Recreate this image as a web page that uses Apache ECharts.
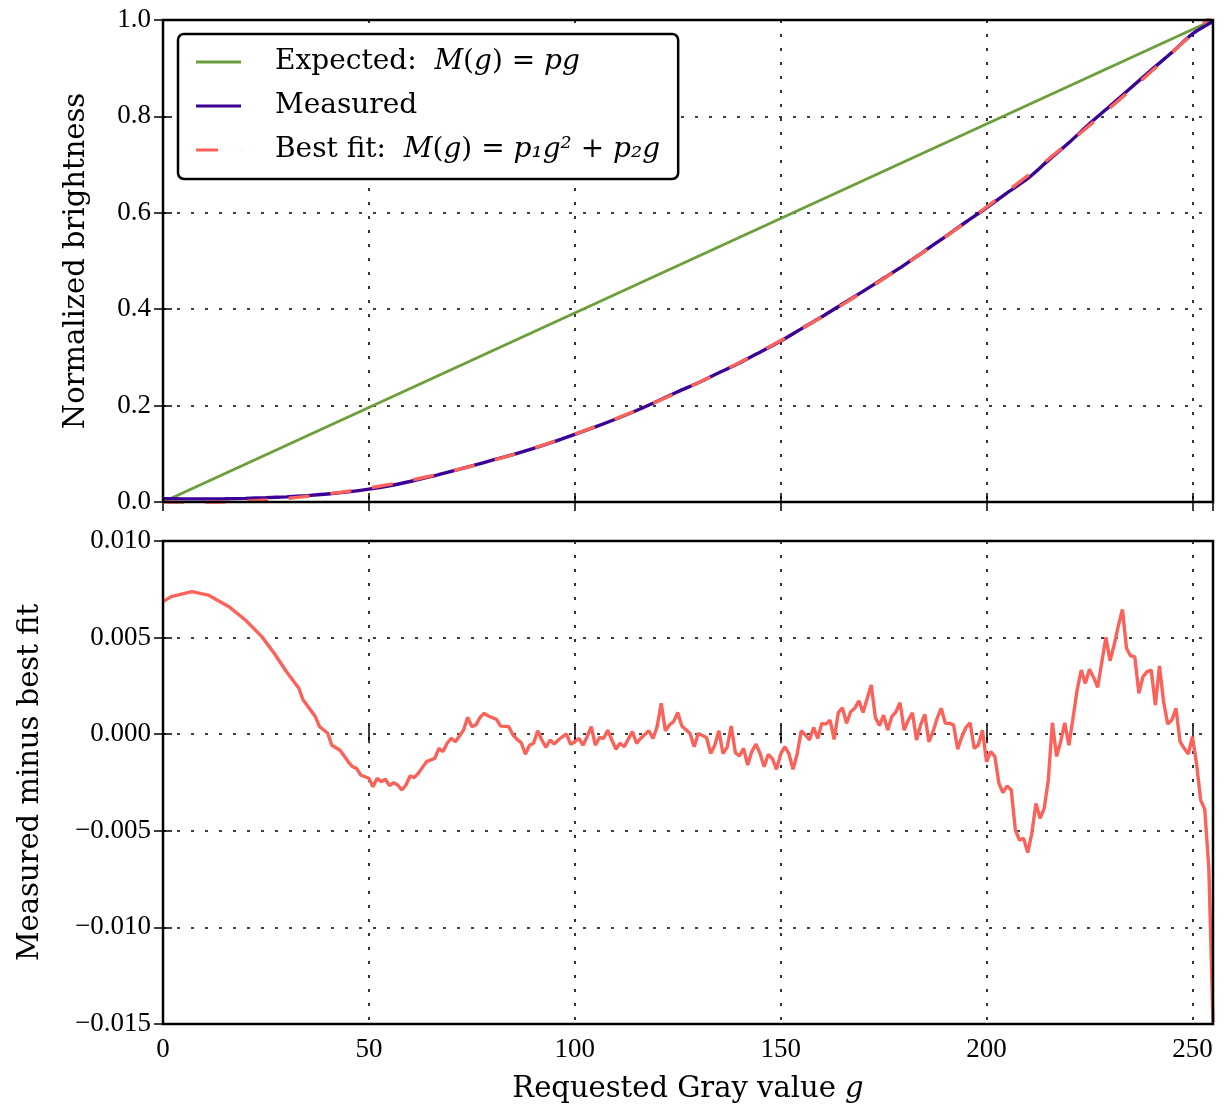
<!DOCTYPE html>
<html>
<head>
<meta charset="utf-8">
<script src="https://cdn.jsdelivr.net/npm/echarts@6/dist/echarts.min.js"></script>
<style>
html,body{margin:0;padding:0;background:#fff;}
#chart{width:1225px;height:1107px;}
</style>
</head>
<body>
<div id="chart"></div>
<script>
// ---------------- data ----------------
var expectedG = [0, 255];
var expectedV = [0, 1.0];

var topG = [0,5,10,15,20,25,30,35,40,45,50,55,60,65,70,75,80,85,90,95,100,105,110,115,120,125,
            130,135,140,145,150,155,160,165,170,175,180,185,190,195,200,205,210,215,220,225,230,235,240,245,250,255];
var fitV = [0,-0.0008,-0.0008,0.0000,0.0017,0.0042,0.0075,0.0117,0.0166,0.0224,0.0290,0.0365,0.0448,0.0539,
            0.0638,0.0745,0.0861,0.0985,0.1118,0.1258,0.1407,0.1564,0.1730,0.1903,0.2085,0.2275,0.2474,0.2680,
            0.2895,0.3119,0.3350,0.3590,0.3838,0.4094,0.4359,0.4631,0.4912,0.5202,0.5499,0.5805,0.6119,0.6442,
            0.6772,0.7111,0.7459,0.7814,0.8178,0.8550,0.8930,0.9318,0.9715,1.0120];
var measuredV = [0.0069,0.0065,0.0064,0.0067,0.0076,0.0090,0.0107,0.0132,0.0166,0.0210,0.0267,0.0338,0.0426,
            0.0525,0.0636,0.0749,0.0869,0.0985,0.1113,0.1253,0.1403,0.1558,0.1722,0.1898,0.2089,0.2286,0.2474,
            0.2682,0.2884,0.3109,0.3340,0.3592,0.3844,0.4108,0.4370,0.4641,0.4914,0.5212,0.5505,0.5809,0.6105,
            0.6415,0.6711,0.7087,0.7453,0.7848,0.8216,0.8590,0.8963,0.9325,0.9714,0.9971];

var resG = [0,2,7,11,16,20,24,27,30,33,34,37,38,40,41,43,45,46,47,48,50,51,52,53,54,55,56,57,58,59,60,61,62,64,66,67,68,69,70,71,73,74,75,76,77,78,79,81,82,84,85,86,87,88,89,90,
  91,92,93,94,95,96,97,98,99,100,101,102,103,104,105,106,107,108,109,110,111,112,114,115,116,118,119,120,121,122,123,124,125,126,128,129,130,132,133,134,135,136,137,138,139,140,
  141,142,143,144,145,146,147,148,149,150,151,152,153,154,155,156,157,158,159,160,161,162,163,164,165,166,167,168,169,170,172,173,174,175,176,177,178,179,180,
  181,182,183,184,185,186,187,188,189,190,191,192,193,194,195,196,197,198,199,200,201,202,203,204,205,206,207,208,209,210,211,212,213,214,215,216,217,218,219,220,
  221,222,223,224,225,226,227,228,229,230,231,232,233,234,235,236,237,238,239,240,241,242,243,244,245,246,247,248,249,250,251,252,253,254,255];
var resV = [0.00686,0.00712,0.00738,0.00720,0.00660,0.00591,0.00505,0.00419,0.00323,0.00238,0.00178,0.00091,0.00040,0.00005,-0.00057,-0.00083,-0.00143,-0.00168,-0.00177,-0.00211,
  -0.00228,-0.00272,-0.00228,-0.00246,-0.00233,-0.00266,-0.00251,-0.00263,-0.00289,-0.00263,-0.00216,-0.00225,-0.00202,-0.00142,-0.00125,-0.00073,-0.00090,-0.00047,-0.00021,-0.00039,
  0.00022,0.00087,0.00039,0.00048,0.00087,0.00108,0.00094,0.00077,0.00042,0.00039,-0.00004,-0.00027,-0.00044,-0.00104,-0.00057,-0.00047,
  0.00018,-0.00030,-0.00068,-0.00030,-0.00051,-0.00030,-0.00013,0.00001,-0.00053,-0.00039,-0.00022,-0.00057,-0.00013,0.00039,-0.00057,-0.00017,-0.00022,0.00021,-0.00030,-0.00078,
  -0.00047,-0.00065,0.00013,-0.00047,-0.00022,0.00018,-0.00022,0.00039,0.00160,0.00018,0.00048,0.00065,0.00112,0.00042,0.00004,-0.00065,0.00004,-0.00017,-0.00100,-0.00057,
  0.00018,-0.00100,-0.00068,0.00042,-0.00096,-0.00113,-0.00073,-0.00160,-0.00090,-0.00051,-0.00100,-0.00168,-0.00104,-0.00127,-0.00182,-0.00104,-0.00065,-0.00100,-0.00182,-0.00104,
  0.00018,-0.00004,-0.00030,0.00035,-0.00022,0.00056,0.00052,0.00073,-0.00027,0.00112,0.00137,0.00056,0.00116,0.00134,0.00173,0.00112,0.00255,0.00087,0.00045,0.00099,
  0.00021,0.00091,0.00116,0.00163,0.00021,0.00073,0.00111,-0.00030,0.00048,0.00103,-0.00039,0.00013,0.00082,0.00134,0.00056,0.00056,0.00048,-0.00078,-0.00013,0.00035,
  0.00059,-0.00073,-0.00057,0.00021,-0.00143,-0.00090,-0.00113,-0.00254,-0.00303,-0.00268,-0.00289,-0.00496,-0.00548,-0.00539,-0.00613,-0.00513,-0.00358,-0.00435,-0.00384,-0.00237,
  0.00059,-0.00115,-0.00039,0.00059,-0.00057,0.00082,0.00229,0.00332,0.00263,0.00336,0.00294,0.00243,0.00375,0.00501,0.00380,0.00462,0.00560,0.00646,0.00445,0.00405,
  0.00401,0.00212,0.00298,0.00324,0.00332,0.00151,0.00353,0.00168,0.00053,0.00073,0.00134,-0.00039,-0.00073,-0.00103,-0.00013,-0.00151,-0.00341,-0.00389,-0.00700,-0.01490];

var xTicksMin = 0, xTicksMax = 255, xTickStep = 50;
var topYMin = 0, topYMax = 1.0, topYStep = 0.2;
var botYMin = -0.015, botYMax = 0.010, botYStep = 0.005;

// ---------------- styling ----------------
var FONT = 'Liberation Serif';
var TFONT = 'DejaVu Serif';
var GREEN = '#6c9f3b', INDIGO = '#3b0095', SALMON = '#fa625a';

function zip(a, b) { return a.map(function (v, i) { return [v, b[i]]; }); }
function minusFmt(d) {
  return function (v) {
    var s = Math.abs(v) < 1e-12 ? (0).toFixed(d) : v.toFixed(d);
    return s.replace('-', '\u2212');
  };
}

var tickStyle = { show: true, inside: true, length: 9, lineStyle: { color: '#000', width: 1.5 } };
var gridLine = { show: true, lineStyle: { color: '#000', width: 1.6, type: [3, 11] } };
var labelStyle = { fontFamily: FONT, fontSize: 27, color: '#000' };

function mainX(gi, showLabels, name) {
  return {
    type: 'value', gridIndex: gi, min: xTicksMin, max: xTicksMax, interval: xTickStep,
    position: 'bottom',
    axisLine: { show: false }, axisTick: tickStyle, splitLine: gridLine,
    axisLabel: Object.assign({ show: showLabels, margin: 12, showMaxLabel: false,
      formatter: function (v) { return v % 50 === 0 ? String(v) : ''; } }, labelStyle),
    name: name || '', nameLocation: 'middle', nameGap: 51,
    nameTextStyle: { fontFamily: TFONT, fontSize: 29, color: '#000',
      rich: { i: { fontFamily: TFONT, fontSize: 29, fontStyle: 'italic', color: '#000' } } }
  };
}
function topX(gi) {
  return {
    type: 'value', gridIndex: gi, min: xTicksMin, max: xTicksMax, interval: xTickStep, position: 'top',
    axisLine: { show: false }, axisTick: tickStyle, splitLine: { show: false }, axisLabel: { show: false }
  };
}
function mainY(gi, mn, mx, step, dec, name, gap) {
  return {
    type: 'value', gridIndex: gi, min: mn, max: mx, interval: step, position: 'left',
    axisLine: { show: false }, axisTick: tickStyle, splitLine: gridLine,
    axisLabel: Object.assign({ margin: 12, formatter: minusFmt(dec) }, labelStyle),
    name: name, nameLocation: 'middle', nameGap: gap,
    nameTextStyle: { fontFamily: TFONT, fontSize: 29, color: '#000' }
  };
}
function rightY(gi, mn, mx, step) {
  return {
    type: 'value', gridIndex: gi, min: mn, max: mx, interval: step, position: 'right',
    axisLine: { show: false }, axisTick: tickStyle, splitLine: { show: false }, axisLabel: { show: false }
  };
}

var chart = echarts.init(document.getElementById('chart'), null, { renderer: 'canvas' });
chart.setOption({
  backgroundColor: '#fff',
  animation: false,
  grid: [
    { left: 163, top: 20, width: 1050, height: 482, show: true, borderColor: '#000', borderWidth: 2.5, z: 5 },
    { left: 163, top: 541, width: 1050, height: 483, show: true, borderColor: '#000', borderWidth: 2.5, z: 5 }
  ],
  xAxis: [mainX(0, false), mainX(1, true, 'Requested Gray value {i|g}'), topX(0), topX(1)],
  yAxis: [
    mainY(0, topYMin, topYMax, topYStep, 1, 'Normalized brightness', 72),
    mainY(1, botYMin, botYMax, botYStep, 3, 'Measured minus best fit', 118),
    rightY(0, topYMin, topYMax, topYStep),
    rightY(1, botYMin, botYMax, botYStep)
  ],
  legend: {
    orient: 'vertical', left: 178, top: 34,
    backgroundColor: '#fff', borderColor: '#000', borderWidth: 2.5, borderRadius: 6,
    padding: [14, 18, 15, 18], itemGap: 16, itemWidth: 45, itemHeight: 3,
    textStyle: { fontFamily: TFONT, fontSize: 28, color: '#000', padding: [0, 0, 0, 29],
      rich: { i: { fontFamily: TFONT, fontSize: 28, fontStyle: 'italic', color: '#000' } } },
    formatter: function (n) {
      if (n === 'Expected') return 'Expected:  {i|M}({i|g}) = {i|pg}';
      if (n === 'Measured') return 'Measured';
      return 'Best fit:  {i|M}({i|g}) = {i|p\u2081g\u00b2} + {i|p\u2082g}';
    },
    data: [
      { name: 'Expected', icon: 'rect' },
      { name: 'Measured', icon: 'rect' },
      { name: 'Best fit', icon: 'path://M0 0h22v3h-22z M44.9 0h0.1v3h-0.1z' }
    ]
  },
  series: [
    { name: 'Expected', type: 'line', xAxisIndex: 0, yAxisIndex: 0, data: zip(expectedG, expectedV),
      showSymbol: false, lineStyle: { color: GREEN, width: 3 }, itemStyle: { color: GREEN }, z: 2 },
    { name: 'Measured', type: 'line', xAxisIndex: 0, yAxisIndex: 0, data: zip(topG, measuredV),
      showSymbol: false, smooth: 0.3, lineStyle: { color: INDIGO, width: 3.4 }, itemStyle: { color: INDIGO }, z: 3 },
    { name: 'Best fit', type: 'line', xAxisIndex: 0, yAxisIndex: 0, data: zip(topG, fitV),
      showSymbol: false, smooth: 0.3, lineStyle: { color: SALMON, width: 3.4, type: [21, 21] }, itemStyle: { color: SALMON }, z: 4 },
    { name: 'Residual', type: 'line', xAxisIndex: 1, yAxisIndex: 1, data: zip(resG, resV),
      showSymbol: false, lineStyle: { color: SALMON, width: 3.4 }, itemStyle: { color: SALMON }, z: 4 }
  ]
});
</script>
</body>
</html>
